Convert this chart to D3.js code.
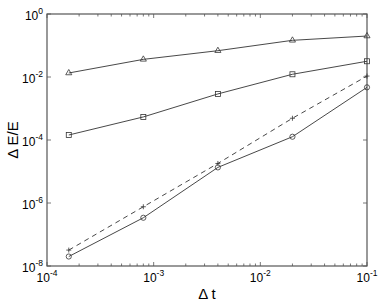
<!DOCTYPE html>
<html>
<head>
<meta charset="utf-8">
<script src="https://cdn.jsdelivr.net/npm/d3@7"></script>
<style>
body { margin: 0; background: #fff; }
svg { font-family: "Liberation Sans", Arial, sans-serif; }
</style>
</head>
<body>
<script>
// data
var dt = [1.6e-4, 8e-4, 4e-3, 2e-2, 1e-1];
var triangleErr = [0.0134, 0.0363, 0.0684, 0.146, 0.2];
var squareErr = [1.44e-4, 5.4e-4, 2.9e-3, 1.22e-2, 0.0316];
var plusErr = [3.2e-8, 7.6e-7, 1.8e-5, 4.9e-4, 1.07e-2];
var circleErr = [2e-8, 3.4e-7, 1.35e-5, 1.27e-4, 4.7e-3];
var xTickExp = [-4, -3, -2, -1];
var yTickExp = [0, -2, -4, -6, -8];

var width = 382, height = 301;
var margin = {left: 47, right: 15, top: 14, bottom: 35};
var lineColor = "#333";
var axisColor = "#555";

var svg = d3.select("body").append("svg")
  .attr("width", width)
  .attr("height", height);

var x = d3.scaleLog().domain([1e-4, 1e-1]).range([margin.left, width - margin.right]);
var y = d3.scaleLog().domain([1e-8, 1]).range([height - margin.bottom, margin.top]);

// minor ticks for x
var xMinor = [];
for (var e = -4; e < -1; e++) {
  for (var m = 2; m <= 9; m++) xMinor.push(m * Math.pow(10, e));
}
var xMajor = xTickExp.map(function(d) { return Math.pow(10, d); });
var yMajor = yTickExp.map(function(d) { return Math.pow(10, d); });

function drawXTicks(y0, dir) {
  svg.selectAll(null).data(xMajor.concat(xMinor)).enter().append("line")
    .attr("x1", function(d) { return x(d); })
    .attr("x2", function(d) { return x(d); })
    .attr("y1", y0)
    .attr("y2", function(d) { return y0 + dir * (xMajor.indexOf(d) >= 0 ? 4 : 2.5); })
    .attr("stroke", axisColor)
    .attr("stroke-width", 0.8);
}
function drawYTicks(x0, dir) {
  svg.selectAll(null).data(yMajor).enter().append("line")
    .attr("y1", function(d) { return y(d); })
    .attr("y2", function(d) { return y(d); })
    .attr("x1", x0)
    .attr("x2", x0 + dir * 4)
    .attr("stroke", axisColor)
    .attr("stroke-width", 0.8);
}
drawXTicks(height - margin.bottom, -1);
drawXTicks(margin.top, 1);
drawYTicks(margin.left, 1);
drawYTicks(width - margin.right, -1);

svg.append("rect")
  .attr("x", margin.left)
  .attr("y", margin.top)
  .attr("width", width - margin.left - margin.right)
  .attr("height", height - margin.top - margin.bottom)
  .attr("fill", "none")
  .attr("stroke", axisColor)
  .attr("stroke-width", 1.2);

// tick labels
xTickExp.forEach(function(ex) {
  var t = svg.append("text")
    .attr("x", x(Math.pow(10, ex)))
    .attr("y", height - margin.bottom + 16)
    .attr("text-anchor", "middle")
    .attr("font-size", 12);
  t.append("tspan").text("10");
  t.append("tspan").attr("dy", -6).attr("font-size", 8.5).text(ex);
});
yTickExp.forEach(function(ex) {
  var t = svg.append("text")
    .attr("x", margin.left - 4)
    .attr("y", y(Math.pow(10, ex)) + 6)
    .attr("text-anchor", "end")
    .attr("font-size", 12);
  t.append("tspan").text("10");
  t.append("tspan").attr("dy", -6).attr("font-size", 8.5).text(ex);
});

// axis titles
svg.append("text")
  .attr("x", (margin.left + width - margin.right) / 2)
  .attr("y", height - 2)
  .attr("text-anchor", "middle")
  .attr("font-size", 15)
  .text("\u0394 t");
svg.append("text")
  .attr("transform", "translate(18," + ((margin.top + height - margin.bottom) / 2) + ") rotate(-90)")
  .attr("text-anchor", "middle")
  .attr("font-size", 15)
  .text("\u0394 E/E");

// series
var line = d3.line()
  .x(function(d) { return x(d[0]); })
  .y(function(d) { return y(d[1]); });

function series(vals, dash, marker) {
  var pts = d3.zip(dt, vals);
  svg.append("path")
    .datum(pts)
    .attr("d", line)
    .attr("fill", "none")
    .attr("stroke", lineColor)
    .attr("stroke-width", 0.9)
    .attr("stroke-dasharray", dash);
  var g = svg.append("g").attr("fill", "none").attr("stroke", lineColor).attr("stroke-width", 0.8);
  pts.forEach(function(p) {
    var cx = x(p[0]), cy = y(p[1]);
    if (marker === "triangle") {
      g.append("path").attr("d", d3.symbol(d3.symbolTriangle, 16)(null))
        .attr("transform", "translate(" + cx + "," + cy + ")");
    } else if (marker === "square") {
      g.append("rect").attr("x", cx - 2.5).attr("y", cy - 2.5).attr("width", 5).attr("height", 5);
    } else if (marker === "circle") {
      g.append("circle").attr("cx", cx).attr("cy", cy).attr("r", 2.6);
    } else {
      g.append("path").attr("d", "M" + (cx - 2.5) + "," + cy + "h5M" + cx + "," + (cy - 2.5) + "v5");
    }
  });
}
series(triangleErr, null, "triangle");
series(squareErr, null, "square");
series(plusErr, "5,4", "plus");
series(circleErr, null, "circle");
</script>
</body>
</html>
